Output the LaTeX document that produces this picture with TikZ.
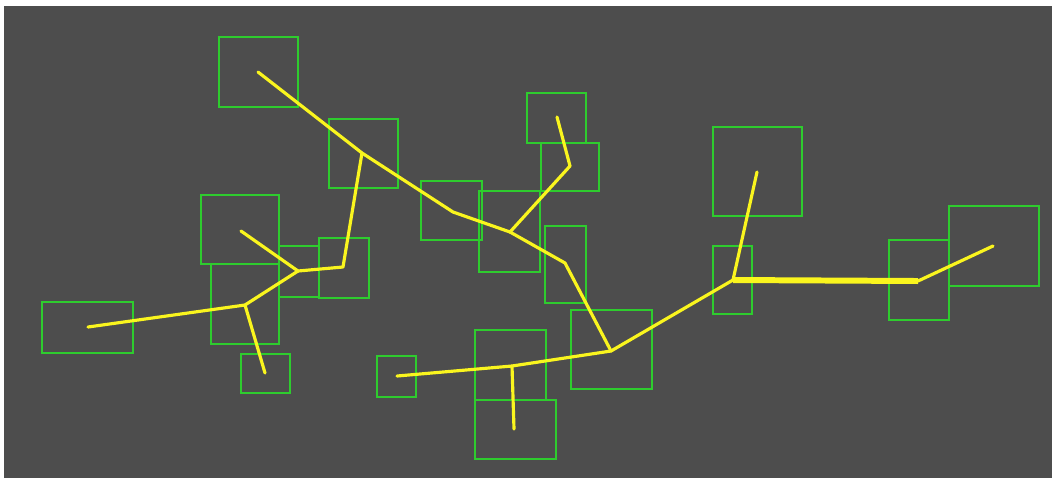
\documentclass[tikz,border=0pt]{standalone}
\usepackage{tikz}
\definecolor{canvas}{RGB}{77,77,77}
\definecolor{boxgreen}{RGB}{46,204,46}
\definecolor{limbyellow}{RGB}{250,245,30}

\begin{document}
\begin{tikzpicture}[
  x=0.01cm,y=-0.01cm,
  box/.style={draw=boxgreen,line width=0.6pt},
  limb/.style={draw=limbyellow,line width=0.9pt,line cap=round,line join=round},
  trunk/.style={draw=limbyellow,line width=1.7pt,line join=round}
]
\useasboundingbox (0,0) rectangle (1052,478);
\fill[white] (0,0) rectangle (1052,478);
\fill[canvas] (4,6) rectangle (1052,478);
% detection boxes
\draw[box] (219,37) rectangle (298,107);
\draw[box] (329,119) rectangle (398,188);
\draw[box] (201,195) rectangle (279,264);
\draw[box] (211,264) rectangle (279,344);
\draw[box] (279,246) rectangle (319,297);
\draw[box] (319,238) rectangle (369,298);
\draw[box] (42,302) rectangle (133,353);
\draw[box] (241,354) rectangle (290,393);
\draw[box] (377,356) rectangle (416,397);
\draw[box] (421,181) rectangle (482,240);
\draw[box] (479,191) rectangle (540,272);
\draw[box] (527,93) rectangle (586,143);
\draw[box] (541,143) rectangle (599,191);
\draw[box] (545,226) rectangle (586,303);
\draw[box] (571,310) rectangle (652,389);
\draw[box] (475,330) rectangle (546,400);
\draw[box] (475,400) rectangle (556,459);
\draw[box] (713,127) rectangle (802,216);
\draw[box] (713,246) rectangle (752,314);
\draw[box] (889,240) rectangle (949,320);
\draw[box] (949,206) rectangle (1039,286);
% joints
\coordinate (head) at (258,72);
\coordinate (neck) at (362,153);
\coordinate (spine) at (453,212);
\coordinate (fork) at (510,232);
\coordinate (elbowL) at (343,267);
\coordinate (wristL) at (298,271);
\coordinate (tipL) at (241,231);
\coordinate (handL) at (245,305);
\coordinate (tailL) at (88,327);
\coordinate (footL) at (265,373);
\coordinate (kneeU) at (570,166);
\coordinate (tipU) at (557,117);
\coordinate (hip) at (565,263);
\coordinate (hub) at (611,351);
\coordinate (branchB) at (512,366);
\coordinate (tailB) at (397,376);
\coordinate (footB) at (514,429);
\coordinate (hubR) at (733,280);
\coordinate (tipR) at (757,172);
\coordinate (bendR) at (918,281);
\coordinate (tailR) at (993,246);
% skeleton
\draw[limb] (head) -- (neck) -- (spine) -- (fork);
\draw[limb] (neck) -- (elbowL) -- (wristL);
\draw[limb] (wristL) -- (tipL);
\draw[limb] (wristL) -- (handL) -- (tailL);
\draw[limb] (handL) -- (footL);
\draw[limb] (fork) -- (kneeU) -- (tipU);
\draw[limb] (fork) -- (hip) -- (hub);
\draw[limb] (hub) -- (branchB) -- (tailB);
\draw[limb] (branchB) -- (footB);
\draw[limb] (hub) -- (hubR);
\draw[limb] (hubR) -- (tipR);
\draw[trunk] (hubR) -- (bendR);
\draw[limb] (bendR) -- (tailR);
\end{tikzpicture}
\end{document}
